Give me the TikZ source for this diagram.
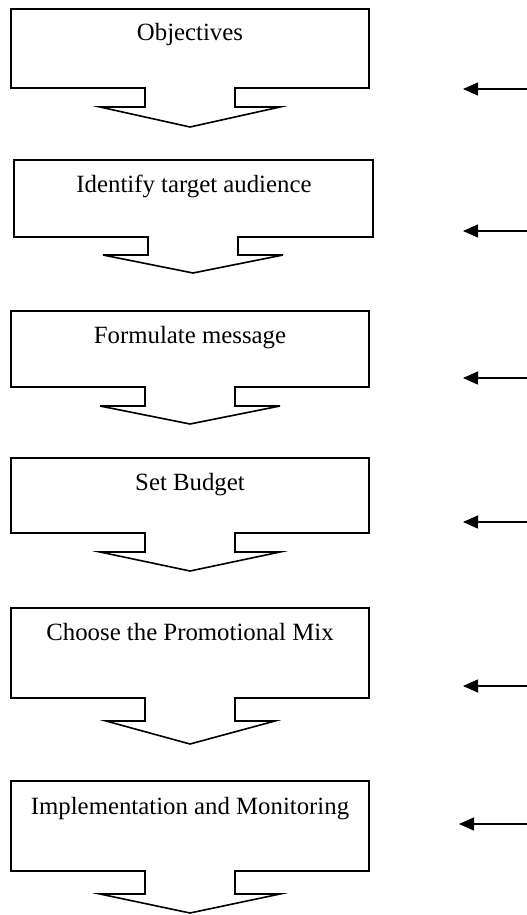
\documentclass[tikz,border=0pt]{standalone}
\usepackage{fontspec}
\setmainfont{Liberation Serif}
\usetikzlibrary{arrows.meta}
\tikzset{
    stepbox/.style={draw, line width=1.6pt, line join=miter},
    steptext/.style={anchor=base, inner sep=0pt, font=\fontsize{24.8}{30}\selectfont},
    feedback/.style={-{Triangle[length=15pt, width=13pt]}, line width=1.3pt},
}

\begin{document}
\begin{tikzpicture}[x=1pt, y=-1pt]
\useasboundingbox (0,0) rectangle (527,915);

% objectives
\node[steptext] (obj) at (190,41) {Objectives};
\draw[stepbox] (11,9) -- (369,9) -- (369,88) -- (235,88) -- (235,107) -- (280,107)
    -- (190,127) -- (100,107) -- (145,107) -- (145,88) -- (11,88) -- cycle;
\coordinate (in1) at (527,89);
\coordinate (out1) at (463,89);
\draw[feedback] (in1) -- (out1);

% target audience
\node[steptext] (aud) at (194,192) {Identify target audience};
\draw[stepbox] (14,160) -- (373,160) -- (373,237) -- (238,237) -- (238,255) -- (283,255)
    -- (193,273) -- (103,255) -- (148,255) -- (148,237) -- (14,237) -- cycle;
\coordinate (in2) at (527,231);
\coordinate (out2) at (463,231);
\draw[feedback] (in2) -- (out2);

% message
\node[steptext] (msg) at (190,343) {Formulate message};
\draw[stepbox] (11,311) -- (369,311) -- (369,387) -- (235,387) -- (235,406) -- (280,406)
    -- (190,424) -- (100,406) -- (145,406) -- (145,387) -- (11,387) -- cycle;
\coordinate (in3) at (527,378);
\coordinate (out3) at (463,378);
\draw[feedback] (in3) -- (out3);

% budget
\node[steptext] (bud) at (190,490) {Set Budget};
\draw[stepbox] (11,458) -- (369,458) -- (369,533) -- (235,533) -- (235,552) -- (280,552)
    -- (190,571) -- (100,552) -- (145,552) -- (145,533) -- (11,533) -- cycle;
\coordinate (in4) at (527,522);
\coordinate (out4) at (463,522);
\draw[feedback] (in4) -- (out4);

% promotional mix
\node[steptext] (mix) at (190,640) {Choose the Promotional Mix};
\draw[stepbox] (11,608) -- (369,608) -- (369,698) -- (235,698) -- (235,721) -- (275,721)
    -- (190,744) -- (106,721) -- (145,721) -- (145,698) -- (11,698) -- cycle;
\coordinate (in5) at (527,686);
\coordinate (out5) at (463,686);
\draw[feedback] (in5) -- (out5);

% implementation
\node[steptext] (imp) at (190,814) {Implementation and Monitoring};
\draw[stepbox] (11,781) -- (369,781) -- (369,871) -- (235,871) -- (235,894) -- (280,894)
    -- (190,913) -- (100,894) -- (145,894) -- (145,871) -- (11,871) -- cycle;
\coordinate (in6) at (527,824);
\coordinate (out6) at (459,824);
\draw[feedback] (in6) -- (out6);

\end{tikzpicture}
\end{document}
